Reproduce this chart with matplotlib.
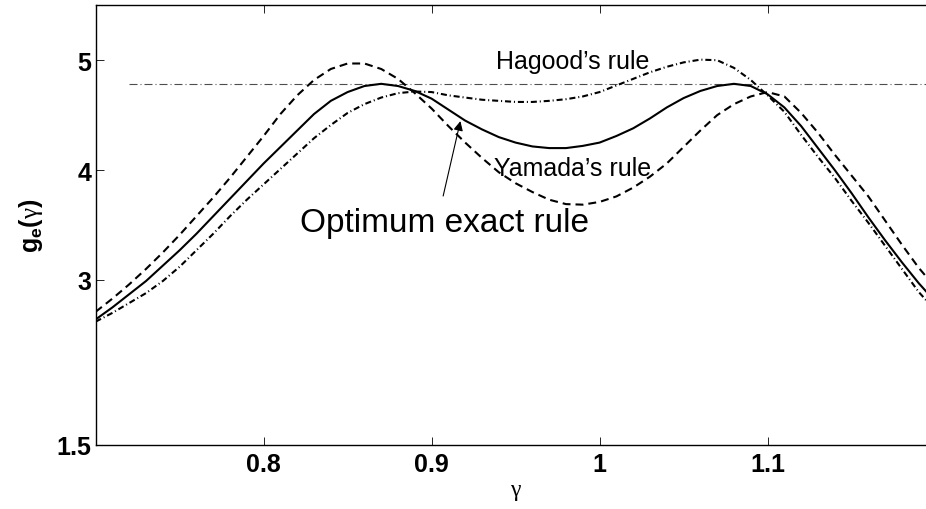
import matplotlib
matplotlib.use('Agg')
import matplotlib.pyplot as plt

# gain curves (gamma step 0.01)
gamma = [0.70, 0.71, 0.72, 0.73, 0.74, 0.75, 0.76, 0.77, 0.78, 0.79,
         0.80, 0.81, 0.82, 0.83, 0.84, 0.85, 0.86, 0.87, 0.88, 0.89,
         0.90, 0.91, 0.92, 0.93, 0.94, 0.95, 0.96, 0.97, 0.98, 0.99,
         1.00, 1.01, 1.02, 1.03, 1.04, 1.05, 1.06, 1.07, 1.08, 1.09,
         1.10, 1.11, 1.12, 1.13, 1.14, 1.15, 1.16, 1.17, 1.18, 1.19, 1.20]

g_opt = [2.64, 2.75, 2.87, 2.99, 3.13, 3.27, 3.42, 3.58, 3.74, 3.90,
         4.06, 4.21, 4.36, 4.51, 4.63, 4.71, 4.765, 4.785, 4.765, 4.72,
         4.65, 4.55, 4.45, 4.37, 4.30, 4.25, 4.215, 4.20, 4.20, 4.22,
         4.25, 4.31, 4.38, 4.47, 4.57, 4.655, 4.72, 4.765, 4.785, 4.765,
         4.69, 4.57, 4.40, 4.20, 4.00, 3.79, 3.57, 3.36, 3.16, 2.97, 2.80]

g_yam = [2.71, 2.83, 2.96, 3.10, 3.25, 3.41, 3.58, 3.75, 3.93, 4.12,
         4.31, 4.51, 4.68, 4.82, 4.92, 4.97, 4.97, 4.92, 4.83, 4.70,
         4.56, 4.40, 4.25, 4.11, 3.98, 3.88, 3.80, 3.73, 3.69, 3.685,
         3.71, 3.76, 3.84, 3.94, 4.06, 4.21, 4.36, 4.50, 4.60, 4.67,
         4.71, 4.67, 4.52, 4.34, 4.14, 3.95, 3.76, 3.54, 3.32, 3.11, 2.93]

g_hag = [2.62, 2.70, 2.79, 2.88, 2.99, 3.12, 3.27, 3.42, 3.58, 3.73,
         3.87, 4.01, 4.15, 4.29, 4.41, 4.52, 4.60, 4.66, 4.70, 4.715,
         4.71, 4.68, 4.66, 4.64, 4.63, 4.62, 4.62, 4.63, 4.645, 4.67,
         4.71, 4.77, 4.83, 4.89, 4.94, 4.98, 5.005, 5.00, 4.93, 4.82,
         4.68, 4.53, 4.32, 4.12, 3.93, 3.72, 3.52, 3.31, 3.10, 2.89, 2.72]

bound_gamma = [0.72, 1.20]
bound_g = [4.785, 4.785]

xticks = [0.8, 0.9, 1.0, 1.1]
xticklabels = ['0.8', '0.9', '1', '1.1']
yticks = [1.5, 3, 4, 5]
yticklabels = ['1.5', '3', '4', '5']

plt.rcParams['font.family'] = ['Liberation Sans', 'DejaVu Sans']
plt.rcParams['mathtext.fontset'] = 'custom'
plt.rcParams['mathtext.rm'] = 'Liberation Serif'
plt.rcParams['mathtext.bf'] = 'Liberation Sans:bold'
plt.rcParams['mathtext.it'] = 'Liberation Sans:italic'

fig = plt.figure(figsize=(9.26, 5.10), dpi=100)
ax = fig.add_axes([0.1033, 0.1261, 0.907, 0.8616])

ax.plot(bound_gamma, bound_g, color='0.3', lw=0.8, dashes=(7.2, 2.7, 0.9, 2.7))
ax.plot(gamma, g_yam, color='k', lw=1.5, dashes=(3.8, 2.4))
ax.plot(gamma, g_hag, color='k', lw=1.5, dashes=(2.9, 1.4, 0.5, 1.4))
ax.plot(gamma, g_opt, color='k', lw=1.5)

ax.text(0.9384, 4.93, 'Hagood\u2019s rule', fontsize=18, va='baseline')
ax.text(0.9373, 3.951, 'Yamada\u2019s rule', fontsize=18, va='baseline')
ax.text(0.8214, 3.448, 'Optimum exact rule', fontsize=24, va='baseline')
ax.annotate('', xy=(0.9175, 4.47), xytext=(0.9065, 3.739),
            arrowprops=dict(arrowstyle='-|>', lw=0.8, color='k', mutation_scale=14))

ax.set_xlim(0.7, 1.2)
ax.set_ylim(1.5, 5.5)
ax.set_xticks(xticks)
ax.set_xticklabels(xticklabels, fontsize=18, fontweight='bold')
ax.set_yticks(yticks)
ax.set_yticklabels(yticklabels, fontsize=18, fontweight='bold')
ax.tick_params(direction='in', length=6, width=0.6, top=True, right=True, pad=5)
ax.tick_params(axis='y', pad=3)
for s in ax.spines.values():
    s.set_linewidth(1.0)

ax.set_xlabel('\u03b3', fontsize=17, family='Liberation Serif')
ax.xaxis.set_label_coords(0.5, -0.078)
ax.set_ylabel(r'$\mathbf{g_e(}\mathrm{\gamma}\mathbf{)}$', fontsize=18)
ax.yaxis.set_label_coords(-0.06, 0.5)

fig.savefig('out.png', dpi=100)
